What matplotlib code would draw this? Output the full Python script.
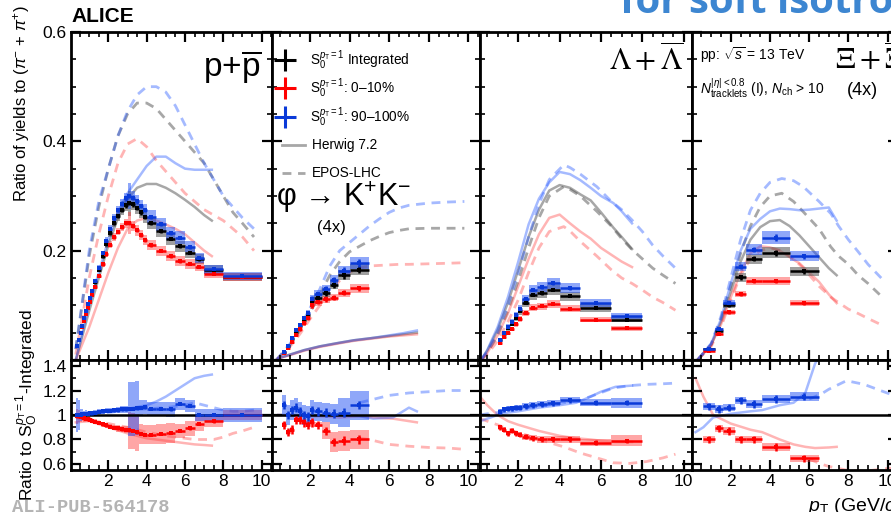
import numpy as np
import matplotlib.pyplot as plt
from matplotlib.ticker import MultipleLocator, FuncFormatter

plt.rcParams['font.family'] = ['Liberation Sans', 'DejaVu Sans']
plt.rcParams['mathtext.fontset'] = 'custom'
plt.rcParams['mathtext.rm'] = 'Liberation Sans'
plt.rcParams['mathtext.it'] = 'Liberation Sans:italic'
plt.rcParams['mathtext.bf'] = 'Liberation Sans:bold'

# ---------------- p + pbar ----------------
P_EDGES = [0.3, 0.4, 0.5, 0.6, 0.7, 0.8, 0.9, 1.0, 1.1, 1.2, 1.4, 1.6, 1.8, 2.0, 2.2, 2.4,
           2.6, 2.8, 3.0, 3.2, 3.4, 3.6, 3.8, 4.0, 4.5, 5.0, 5.5, 6.0, 6.5, 7.0, 8.0, 10.0]
P_INT = [0.025, 0.037, 0.05, 0.062, 0.075, 0.088, 0.1, 0.112, 0.124, 0.142, 0.165, 0.19, 0.212,
         0.232, 0.25, 0.263, 0.274, 0.283, 0.287, 0.285, 0.278, 0.27, 0.262, 0.25, 0.236, 0.222,
         0.208, 0.196, 0.184, 0.165, 0.152]
P_LOW = [0.025, 0.036, 0.049, 0.06, 0.072, 0.084, 0.096, 0.107, 0.118, 0.134, 0.154, 0.175, 0.194,
         0.211, 0.225, 0.235, 0.243, 0.25, 0.25, 0.245, 0.237, 0.228, 0.22, 0.21, 0.2, 0.19,
         0.181, 0.176, 0.171, 0.157, 0.152]
P_HIGH = [0.025, 0.037, 0.05, 0.063, 0.076, 0.089, 0.102, 0.114, 0.126, 0.145, 0.169, 0.195, 0.218,
          0.239, 0.259, 0.274, 0.286, 0.296, 0.3, 0.297, 0.29, 0.282, 0.274, 0.262, 0.248, 0.232,
          0.224, 0.207, 0.186, 0.166, 0.154]
P_SYS = [0.04, 0.03, 0.03, 0.025, 0.025, 0.02, 0.02, 0.02, 0.02, 0.025, 0.025, 0.025, 0.03, 0.03,
         0.03, 0.03, 0.03, 0.035, 0.08, 0.04, 0.04, 0.04, 0.04, 0.045, 0.045, 0.05, 0.05, 0.05,
         0.05, 0.05, 0.05]
P_RLOW = [0.99, 0.99, 0.985, 0.98, 0.975, 0.97, 0.965, 0.96, 0.955, 0.945, 0.935, 0.925, 0.915,
          0.905, 0.895, 0.89, 0.885, 0.88, 0.875, 0.87, 0.86, 0.845, 0.84, 0.84, 0.845, 0.855,
          0.87, 0.89, 0.93, 0.95, 1.0]
P_RHIGH = [1.0, 1.0, 1.0, 1.005, 1.005, 1.01, 1.01, 1.015, 1.015, 1.02, 1.025, 1.03, 1.035, 1.035,
           1.04, 1.04, 1.045, 1.045, 1.05, 1.05, 1.055, 1.06, 1.065, 1.05, 1.05, 1.045, 1.09,
           1.075, 1.0, 1.0, 1.0]
P_RSYS_LOW = [0.06, 0.05, 0.04, 0.03, 0.03, 0.03, 0.02, 0.02, 0.02, 0.02, 0.02, 0.02, 0.02, 0.02,
              0.02, 0.025, 0.025, 0.03, 0.15, 0.15, 0.15, 0.08, 0.08, 0.08, 0.08, 0.08, 0.06, 0.06,
              0.06, 0.05, 0.04]
P_RSYS_HIGH = [0.14, 0.12, 0.05, 0.04, 0.03, 0.03, 0.02, 0.02, 0.02, 0.02, 0.02, 0.02, 0.02, 0.02,
               0.02, 0.025, 0.025, 0.03, 0.22, 0.22, 0.22, 0.06, 0.06, 0.06, 0.06, 0.06, 0.05, 0.05,
               0.05, 0.05, 0.06]
P_HW_X = [0.3, 1.0, 1.5, 2.0, 2.5, 3.0, 3.5, 4.0, 4.5, 5.0, 5.5, 6.0, 6.5, 7.0, 7.4]
P_HW_INT = [0.0, 0.09, 0.15, 0.21, 0.26, 0.295, 0.315, 0.322, 0.322, 0.315, 0.305, 0.293, 0.28, 0.265, 0.255]
P_HW_LOW = [0.0, 0.06, 0.11, 0.16, 0.205, 0.24, 0.255, 0.26, 0.255, 0.248, 0.24, 0.23, 0.215, 0.2, 0.19]
P_HW_HIGH = [0.0, 0.1, 0.16, 0.22, 0.27, 0.305, 0.33, 0.355, 0.372, 0.372, 0.36, 0.35, 0.348, 0.348, 0.348]
P_EP_X = [0.3, 1.0, 1.5, 2.0, 2.5, 3.0, 3.5, 4.0, 4.5, 5.0, 5.5, 6.0, 6.5, 7.0, 7.5, 8.0, 8.5, 9.0, 9.6]
P_EP_INT = [0.02, 0.19, 0.28, 0.35, 0.41, 0.45, 0.47, 0.47, 0.46, 0.44, 0.42, 0.4, 0.38, 0.36, 0.33,
            0.3, 0.27, 0.25, 0.225]
P_EP_LOW = [0.01, 0.15, 0.23, 0.3, 0.36, 0.395, 0.405, 0.39, 0.365, 0.345, 0.325, 0.305, 0.29, 0.275,
            0.265, 0.255, 0.24, 0.225, 0.2]
P_EP_HIGH = [0.02, 0.2, 0.29, 0.35, 0.41, 0.455, 0.485, 0.5, 0.5, 0.49, 0.465, 0.43, 0.395, 0.36,
             0.33, 0.3, 0.28, 0.26, 0.24]
P_RHW_X = [0.3, 1.0, 2.0, 3.0, 4.0, 4.5, 5.0, 5.5, 6.0, 6.5, 7.0, 7.4]
P_RHW_LOW = [0.94, 0.95, 0.9, 0.85, 0.81, 0.8, 0.79, 0.78, 0.77, 0.76, 0.755, 0.75]
P_RHW_HIGH = [1.0, 1.01, 1.03, 1.05, 1.08, 1.11, 1.15, 1.2, 1.25, 1.3, 1.32, 1.33]
P_REP_X = [0.3, 1.0, 2.0, 3.0, 4.0, 5.0, 6.0, 6.5, 7.0, 7.5, 8.0, 8.5, 9.0, 9.6]
P_REP_LOW = [0.98, 0.96, 0.93, 0.9, 0.86, 0.83, 0.81, 0.8, 0.8, 0.8, 0.82, 0.85, 0.87, 0.9]
P_REP_HIGH = [1.0, 1.01, 1.02, 1.04, 1.05, 1.06, 1.08, 1.1, 1.08, 1.06, 1.04, 1.03, 1.03, 1.04]

# ---------------- phi (4x) ----------------
F_EDGES = [0.6, 0.8, 1.0, 1.2, 1.4, 1.6, 1.8, 2.0, 2.2, 2.6, 3.0, 3.4, 4.0, 5.0]
F_INT = [0.014, 0.025, 0.038, 0.051, 0.062, 0.073, 0.083, 0.108, 0.113, 0.122, 0.138, 0.155, 0.165]
F_LOW = [0.013, 0.022, 0.033, 0.046, 0.056, 0.067, 0.077, 0.1, 0.106, 0.111, 0.114, 0.123, 0.131]
F_HIGH = [0.015, 0.026, 0.04, 0.054, 0.064, 0.076, 0.086, 0.112, 0.12, 0.13, 0.146, 0.163, 0.178]
F_SYS = 0.06
F_RLOW = [0.92, 0.86, 0.88, 0.96, 0.96, 0.94, 0.92, 0.94, 0.92, 0.87, 0.78, 0.79, 0.8]
F_RHIGH = [1.08, 1.0, 1.04, 1.06, 1.03, 1.0, 0.99, 1.04, 1.03, 1.02, 1.01, 1.02, 1.08]
F_RSYS_LOW = [0.02, 0.02, 0.02, 0.02, 0.02, 0.02, 0.02, 0.02, 0.02, 0.07, 0.08, 0.08, 0.08]
F_RSYS_HIGH = [0.08, 0.08, 0.08, 0.08, 0.08, 0.08, 0.08, 0.08, 0.08, 0.08, 0.08, 0.12, 0.12]
F_HW_X = [0.4, 1.0, 1.7, 2.5, 3.4, 4.2, 5.1, 6.0, 6.7, 7.4]
F_HW_INT = [0.003, 0.01, 0.018, 0.025, 0.031, 0.036, 0.04, 0.044, 0.047, 0.05]
F_HW_LOW = [0.003, 0.009, 0.017, 0.024, 0.03, 0.035, 0.039, 0.043, 0.045, 0.047]
F_HW_HIGH = [0.003, 0.01, 0.018, 0.025, 0.031, 0.036, 0.04, 0.045, 0.049, 0.054]
F_EP_X = [0.3, 1.0, 1.5, 2.0, 2.5, 3.0, 3.5, 4.0, 4.5, 5.0, 5.5, 6.0, 6.5, 7.0, 8.0, 9.0, 9.8]
F_EP_INT = [0.0, 0.028, 0.055, 0.087, 0.12, 0.155, 0.18, 0.198, 0.208, 0.218, 0.226, 0.233, 0.237,
            0.24, 0.241, 0.241, 0.241]
F_EP_LOW = [0.0, 0.025, 0.048, 0.075, 0.1, 0.125, 0.145, 0.16, 0.168, 0.172, 0.173, 0.174, 0.175,
            0.175, 0.176, 0.177, 0.178]
F_EP_HIGH = [0.0, 0.03, 0.06, 0.095, 0.13, 0.172, 0.2, 0.215, 0.23, 0.245, 0.258, 0.27, 0.278,
             0.283, 0.287, 0.289, 0.29]
F_RHW_X = [0.4, 1.5, 2.5, 3.5, 4.5, 5.2, 6.2, 7.0, 7.4]
F_RHW_LOW = [1.0, 0.99, 0.99, 0.98, 0.99, 0.98, 0.97, 0.95, 0.94]
F_RHW_HIGH = [1.0, 1.0, 1.0, 1.0, 0.99, 0.97, 0.98, 1.06, 1.03]
F_REP_X = [4.5, 5.0, 6.0, 7.0, 8.0, 9.0, 9.8]
F_REP_LOW = [0.81, 0.8, 0.76, 0.745, 0.735, 0.73, 0.72]
F_REP_HIGH = [1.1, 1.12, 1.16, 1.18, 1.19, 1.2, 1.2]

# ---------------- Lambda + anti-Lambda ----------------
L_EDGES = [1.0, 1.2, 1.4, 1.6, 1.8, 2.0, 2.2, 2.5, 2.9, 3.4, 4.0, 5.0, 6.5, 8.0]
L_INT = [0.036, 0.048, 0.058, 0.066, 0.077, 0.089, 0.104, 0.119, 0.122, 0.128, 0.117, 0.095, 0.074]
L_LOW = [0.032, 0.042, 0.049, 0.057, 0.065, 0.075, 0.086, 0.096, 0.098, 0.102, 0.094, 0.074, 0.058]
L_HIGH = [0.037, 0.05, 0.061, 0.07, 0.082, 0.094, 0.111, 0.128, 0.133, 0.14, 0.131, 0.105, 0.081]
L_SYS = 0.07
L_RLOW = [0.9, 0.88, 0.85, 0.87, 0.85, 0.84, 0.823, 0.81, 0.8, 0.8, 0.8, 0.775, 0.788]
L_RHIGH = [1.027, 1.045, 1.05, 1.055, 1.06, 1.06, 1.07, 1.08, 1.087, 1.095, 1.12, 1.1, 1.1]
L_RSYS_LOW = [0.02, 0.02, 0.02, 0.02, 0.02, 0.02, 0.025, 0.025, 0.025, 0.025, 0.025, 0.03, 0.045]
L_RSYS_HIGH = [0.02, 0.02, 0.02, 0.02, 0.02, 0.02, 0.025, 0.025, 0.025, 0.025, 0.025, 0.03, 0.04]
L_HW_X = [0.2, 0.5, 1.0, 1.5, 2.0, 2.5, 3.0, 3.5, 4.0, 4.5, 5.0, 5.5, 6.0, 6.6, 7.0, 7.5]
L_HW_INT = [0.0, 0.017, 0.055, 0.105, 0.165, 0.225, 0.275, 0.31, 0.32, 0.315, 0.303, 0.292, 0.27,
            0.242, 0.225, 0.203]
L_HW_LOW = [0.0, 0.013, 0.045, 0.085, 0.135, 0.185, 0.23, 0.26, 0.266, 0.25, 0.235, 0.222, 0.205,
            0.19, 0.18, 0.17]
L_HW_HIGH = [0.0, 0.018, 0.06, 0.115, 0.18, 0.248, 0.295, 0.325, 0.344, 0.34, 0.329, 0.315, 0.3,
             0.287, 0.272, 0.25]
L_EP_X = [0.2, 0.5, 1.0, 1.5, 2.0, 2.5, 3.0, 3.5, 4.2, 4.5, 5.0, 5.8, 6.5, 7.0, 7.5, 8.0, 8.5, 9.0, 9.6]
L_EP_INT = [0.0, 0.013, 0.045, 0.09, 0.145, 0.205, 0.26, 0.3, 0.317, 0.312, 0.3, 0.272, 0.245,
            0.222, 0.202, 0.185, 0.168, 0.155, 0.14]
L_EP_LOW = [0.0, 0.01, 0.035, 0.07, 0.11, 0.16, 0.205, 0.235, 0.244, 0.236, 0.217, 0.19, 0.165,
            0.15, 0.14, 0.128, 0.115, 0.105, 0.091]
L_EP_HIGH = [0.0, 0.015, 0.05, 0.1, 0.16, 0.225, 0.285, 0.33, 0.357, 0.352, 0.34, 0.317, 0.29,
             0.275, 0.256, 0.235, 0.21, 0.19, 0.168]
L_RHW_X = [0.15, 0.5, 1.0, 1.5, 2.0, 3.0, 4.0, 4.8, 5.5, 6.0, 6.7, 7.5]
L_RHW_LOW = [1.15, 1.08, 1.0, 0.95, 0.92, 0.87, 0.83, 0.81, 0.8, 0.79, 0.78, 0.78]
L_RHW_HIGH = [0.95, 0.97, 1.0, 1.02, 1.03, 1.06, 1.08, 1.1, 1.15, 1.19, 1.23, 1.24]
L_REP_X = [0.15, 0.5, 1.0, 1.75, 2.5, 3.4, 4.2, 5.0, 5.8, 6.6, 7.4, 8.2, 9.0, 9.6]
L_REP_LOW = [0.97, 0.95, 0.92, 0.87, 0.83, 0.78, 0.74, 0.69, 0.65, 0.61, 0.605, 0.62, 0.65, 0.68]
L_REP_HIGH = [1.0, 1.01, 1.02, 1.04, 1.06, 1.08, 1.1, 1.12, 1.17, 1.22, 1.24, 1.25, 1.255, 1.26]

# ---------------- Xi + anti-Xi (4x) ----------------
X_EDGES = [0.6, 1.2, 1.6, 2.2, 2.8, 3.6, 5.0, 6.5]
X_INT = [0.0196, 0.053, 0.1, 0.151, 0.185, 0.196, 0.162]
X_LOW = [0.016, 0.048, 0.087, 0.121, 0.145, 0.145, 0.104]
X_HIGH = [0.021, 0.056, 0.105, 0.171, 0.202, 0.224, 0.19]
X_SYS = 0.05
X_RLOW = [0.8, 0.89, 0.87, 0.8, 0.8, 0.74, 0.647]
X_RHIGH = [1.07, 1.05, 1.06, 1.12, 1.09, 1.13, 1.15]
X_RSYS_LOW = [0.03, 0.03, 0.03, 0.03, 0.03, 0.03, 0.03]
X_RSYS_HIGH = [0.03, 0.03, 0.03, 0.03, 0.03, 0.03, 0.035]
X_HW_X = [0.3, 1.0, 1.5, 2.0, 2.5, 3.0, 3.5, 4.0, 4.5, 5.0, 5.5, 6.0, 6.5, 7.0, 7.4]
X_HW_INT = [0.0, 0.028, 0.07, 0.125, 0.18, 0.22, 0.243, 0.254, 0.256, 0.245, 0.228, 0.208, 0.188,
            0.168, 0.155]
X_HW_LOW = [0.0, 0.028, 0.065, 0.115, 0.16, 0.195, 0.208, 0.206, 0.2, 0.188, 0.177, 0.16, 0.143,
            0.12, 0.104]
X_HW_HIGH = [0.0, 0.03, 0.075, 0.14, 0.2, 0.24, 0.258, 0.272, 0.277, 0.276, 0.274, 0.275, 0.277,
             0.279, 0.255]
X_EP_X = [0.3, 1.0, 1.5, 2.0, 2.5, 3.0, 3.5, 4.0, 4.6, 5.2, 5.7, 6.5, 7.1, 7.5, 8.0, 8.5, 9.0, 9.7]
X_EP_INT = [0.0, 0.028, 0.075, 0.135, 0.195, 0.245, 0.28, 0.3, 0.305, 0.29, 0.271, 0.24, 0.207,
            0.19, 0.175, 0.155, 0.14, 0.116]
X_EP_LOW = [0.0, 0.025, 0.06, 0.11, 0.155, 0.185, 0.2, 0.205, 0.2, 0.185, 0.168, 0.135, 0.115,
            0.105, 0.093, 0.085, 0.076, 0.064]
X_EP_HIGH = [0.0, 0.03, 0.08, 0.15, 0.22, 0.274, 0.305, 0.325, 0.332, 0.328, 0.317, 0.29, 0.268,
             0.245, 0.22, 0.198, 0.175, 0.149]
X_RHW_X = [0.2, 0.6, 1.1, 2.0, 3.0, 3.6, 4.5, 5.2, 5.8, 6.3, 7.0, 7.4]
X_RHW_LOW = [1.3, 1.15, 1.0, 0.93, 0.88, 0.86, 0.8, 0.76, 0.74, 0.73, 0.735, 0.74]
X_RHW_HIGH = [0.86, 0.9, 0.98, 1.01, 1.03, 1.04, 1.08, 1.1, 1.18, 1.42, 1.6, 1.7]
X_REP_X = [6.0, 6.6, 7.0, 7.9, 8.8, 9.8, 10.5]
X_REP_LOW = [0.64, 0.6, 0.58, 0.55, 0.54, 0.56, 0.57]
X_REP_HIGH = [1.13, 1.17, 1.21, 1.28, 1.25, 1.19, 1.15]

# legend
LEG_LABELS = [r'$\mathrm{S}_{0}^{p_{\mathrm{T}}=1}$ Integrated',
              r'$\mathrm{S}_{0}^{p_{\mathrm{T}}=1}$: 0–10%',
              r'$\mathrm{S}_{0}^{p_{\mathrm{T}}=1}$: 90–100%',
              'Herwig 7.2', 'EPOS-LHC']

# colours
DATA_COLS = ['#000000', '#ff0000', '#0a3ad8']
BOX_COLS = ['#606060', '#ff3a3a', '#2050f5']
BOX_ALPHA = [0.6, 0.45, 0.5]
MOD_COLS = ['#505050', '#ff2a2a', '#2a5cff']
MOD_ALPHA = [0.5, 0.35, 0.42]
DASH = (0, (3.2, 2.4))

panels = [
    (P_EDGES, (P_INT, P_LOW, P_HIGH), P_SYS, 0.015, (P_RLOW, P_RHIGH), (P_RSYS_LOW, P_RSYS_HIGH), 0.012,
     (P_HW_X, P_HW_INT, P_HW_LOW, P_HW_HIGH), (P_EP_X, P_EP_INT, P_EP_LOW, P_EP_HIGH),
     (P_RHW_X, P_RHW_LOW, P_RHW_HIGH), (P_REP_X, P_REP_LOW, P_REP_HIGH)),
    (F_EDGES, (F_INT, F_LOW, F_HIGH), F_SYS, 0.04, (F_RLOW, F_RHIGH), (F_RSYS_LOW, F_RSYS_HIGH), 0.035,
     (F_HW_X, F_HW_INT, F_HW_LOW, F_HW_HIGH), (F_EP_X, F_EP_INT, F_EP_LOW, F_EP_HIGH),
     (F_RHW_X, F_RHW_LOW, F_RHW_HIGH), (F_REP_X, F_REP_LOW, F_REP_HIGH)),
    (L_EDGES, (L_INT, L_LOW, L_HIGH), L_SYS, 0.02, (L_RLOW, L_RHIGH), (L_RSYS_LOW, L_RSYS_HIGH), 0.02,
     (L_HW_X, L_HW_INT, L_HW_LOW, L_HW_HIGH), (L_EP_X, L_EP_INT, L_EP_LOW, L_EP_HIGH),
     (L_RHW_X, L_RHW_LOW, L_RHW_HIGH), (L_REP_X, L_REP_LOW, L_REP_HIGH)),
    (X_EDGES, (X_INT, X_LOW, X_HIGH), X_SYS, 0.025, (X_RLOW, X_RHIGH), (X_RSYS_LOW, X_RSYS_HIGH), 0.03,
     (X_HW_X, X_HW_INT, X_HW_LOW, X_HW_HIGH), (X_EP_X, X_EP_INT, X_EP_LOW, X_EP_HIGH),
     (X_RHW_X, X_RHW_LOW, X_RHW_HIGH), (X_REP_X, X_REP_LOW, X_REP_HIGH)),
]

# layout in pixels
W, H = 891, 512
LEFTS = [71, 272, 480, 692]
RIGHTS = [272, 480, 692, 898]
XLIMS = [(0.05, 10.54), (0.08, 10.59), (0.15, 10.4), (0.02, 10.53)]

fig = plt.figure(figsize=(W / 100, H / 100), dpi=100)


def add_ax(x0, x1, y0, y1):
    return fig.add_axes([x0 / W, 1 - y1 / H, (x1 - x0) / W, (y1 - y0) / H])


def fmt_top(v, _):
    return '' if abs(v) < 1e-6 else f'{v:.1f}'


def fmt_ratio(v, _):
    return f'{round(v, 1):g}'


axes_top, axes_rat = [], []
for i, p in enumerate(panels):
    edges, vals, sys, stat, rat, rsys, rstat, hw, ep, rhw, rep = p
    axt = add_ax(LEFTS[i], RIGHTS[i], 32, 360)
    axr = add_ax(LEFTS[i], RIGHTS[i], 360, 470)
    axes_top.append(axt)
    axes_rat.append(axr)

    edges = np.array(edges)
    cen = 0.5 * (edges[1:] + edges[:-1])
    half = 0.5 * np.diff(edges)

    # models, top
    for k in range(3):
        axt.plot(hw[0], hw[k + 1], color=MOD_COLS[k], alpha=MOD_ALPHA[k], lw=1.8, zorder=1)
        axt.plot(ep[0], ep[k + 1], color=MOD_COLS[k], alpha=MOD_ALPHA[k], lw=2.0, ls=DASH, zorder=1)
    # models, ratio
    for k in range(2):
        axr.plot(rhw[0], rhw[k + 1], color=MOD_COLS[k + 1], alpha=MOD_ALPHA[k + 1], lw=1.8, zorder=1)
        axr.plot(rep[0], rep[k + 1], color=MOD_COLS[k + 1], alpha=MOD_ALPHA[k + 1], lw=2.0, ls=DASH, zorder=1)

    # data, top
    for k in range(3):
        v = np.array(vals[k])
        s = np.array(sys) * v
        axt.bar(cen, 2 * s, bottom=v - s, width=2 * half, color=BOX_COLS[k], alpha=BOX_ALPHA[k],
                linewidth=0, zorder=2)
    for k in range(3):
        v = np.array(vals[k])
        axt.errorbar(cen, v, xerr=half, yerr=stat * v, fmt='s', ms=2.2, mew=0, color=DATA_COLS[k],
                     elinewidth=1.8, capsize=0, zorder=3)

    # data, ratio
    axr.axhline(1.0, color='black', lw=1.8, zorder=2.5)
    for k in range(2):
        r = np.array(rat[k])
        s = np.array(rsys[k])
        axr.bar(cen, 2 * s, bottom=r - s, width=2 * half, color=BOX_COLS[k + 1], alpha=BOX_ALPHA[k + 1],
                linewidth=0, zorder=2)
    for k in range(2):
        r = np.array(rat[k])
        axr.errorbar(cen, r, xerr=half, yerr=rstat, fmt='s', ms=2.2, mew=0, color=DATA_COLS[k + 1],
                     elinewidth=1.8, capsize=0, zorder=3)

    for ax in (axt, axr):
        ax.set_xlim(XLIMS[i])
        ax.xaxis.set_major_locator(MultipleLocator(2))
        ax.xaxis.set_minor_locator(MultipleLocator(0.5))
        ax.tick_params(which='both', direction='in', top=True, right=True, labelsize=12.5, pad=3)
        ax.tick_params(which='major', length=7, width=1.6)
        ax.tick_params(which='minor', length=3.5, width=1.2)
        for sp in ax.spines.values():
            sp.set_linewidth(2)
    axt.set_ylim(0, 0.6)
    axt.yaxis.set_major_locator(MultipleLocator(0.2))
    axt.yaxis.set_minor_locator(MultipleLocator(0.05))
    axt.yaxis.set_major_formatter(FuncFormatter(fmt_top))
    axt.tick_params(labelbottom=False)
    axr.set_ylim(0.551, 1.449)
    axr.yaxis.set_major_locator(MultipleLocator(0.2))
    axr.yaxis.set_minor_locator(MultipleLocator(0.1))
    axr.yaxis.set_major_formatter(FuncFormatter(fmt_ratio))
    axr.xaxis.set_major_formatter(FuncFormatter(lambda v, _: f'{v:g}'))
    if i > 0:
        axt.tick_params(labelleft=False)
        axr.tick_params(labelleft=False)

ax1, ax2, ax3, ax4 = axes_top

# species labels
ax1.text(0.95, 0.893, r'p+$\overline{\mathrm{p}}$', transform=ax1.transAxes, ha='right', va='center',
         fontsize=24)
ax2.text(0.02, 0.495, 'φ → K$^{+}$K$^{-}$', transform=ax2.transAxes,
         ha='left', va='center', fontsize=22)
ax2.text(0.284, 0.405, '(4x)', transform=ax2.transAxes, ha='center', va='center', fontsize=12)
ax3.text(0.962, 0.915, r'$\Lambda+\overline{\Lambda}$', transform=ax3.transAxes, ha='right',
         va='center', fontsize=22, math_fontfamily='stix')
ax4.text(0.694, 0.915, r'$\Xi+\overline{\Xi}$', transform=ax4.transAxes, ha='left', va='center',
         fontsize=22, math_fontfamily='stix')
ax4.text(0.825, 0.823, '(4x)', transform=ax4.transAxes, ha='center', va='center', fontsize=13)
ax4.text(0.039, 0.93, r'pp: $\sqrt{s}$ = 13 TeV', transform=ax4.transAxes, ha='left', va='center',
         fontsize=10)
ax4.text(0.039, 0.829, r'$N_{\mathrm{tracklets}}^{|\eta|<0.8}$ (I), $N_{\mathrm{ch}}$ > 10',
         transform=ax4.transAxes, ha='left', va='center', fontsize=10)

# legend rows drawn by hand (row centres at 60, 89, 117, 145, 173 px)
for j, lab in enumerate(LEG_LABELS):
    yy = 1 - (60 + 28.3 * j - 32) / 328
    if j < 3:
        ax2.plot([0.0625], [yy], transform=ax2.transAxes, marker='+', ms=16, mew=2.2,
                 color=DATA_COLS[j], clip_on=False, zorder=5)
        ax2.text(0.183, yy, lab, transform=ax2.transAxes, ha='left', va='center', fontsize=9.8)
    else:
        ax2.plot([0.048, 0.158], [yy, yy], transform=ax2.transAxes, color=MOD_COLS[0],
                 alpha=MOD_ALPHA[0], lw=2, ls='-' if j == 3 else DASH, zorder=5)
        ax2.text(0.192, yy, lab, transform=ax2.transAxes, ha='left', va='center', fontsize=9.8)

# figure texts
fig.text(71 / W, 1 - 16 / H, 'ALICE', fontsize=15, fontweight='bold', va='center', ha='left')
fig.text(620 / W, 1 - 13 / H, 'for soft isotropic', fontsize=29, fontweight='bold', color='#3d86d1',
         va='baseline', ha='left', family=['Open Sans', 'DejaVu Sans'])
fig.text(22 / W, 1 - 104 / H, r'Ratio of yields to $(\pi^{-}$ + $\pi^{+})$', rotation=90,
         ha='center', va='center', fontsize=12)
fig.text(27 / W, 1 - 405 / H, r'Ratio to $\mathrm{S}_{\mathrm{O}}^{p_{\mathrm{T}}=1}$-Integrated',
         rotation=90, ha='center', va='center', fontsize=12.5)
fig.text(808 / W, 1 - 496 / H, r'$p_{\mathrm{T}}$ (GeV/$c$)', fontsize=14, ha='left', va='top')
fig.text(12 / W, 1 - 499 / H, 'ALI-PUB-564178', fontsize=13.5, fontweight='bold', color='#b4b4b4',
         ha='left', va='top', family=['Liberation Mono', 'DejaVu Sans Mono'])

fig.savefig('out.png', dpi=100)
